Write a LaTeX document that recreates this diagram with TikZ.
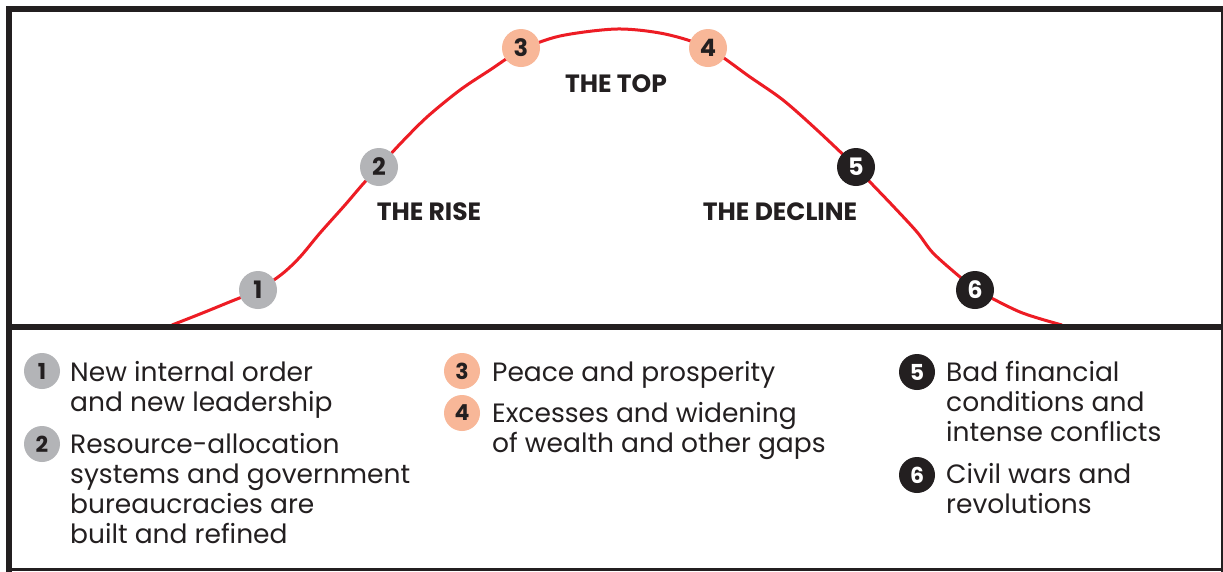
\documentclass[tikz,border=0pt]{standalone}
\usepackage{fontspec}
\setmainfont{Poppins}
\definecolor{ink}{HTML}{231F20}
\definecolor{curvered}{HTML}{ED1C24}
\definecolor{risegray}{HTML}{B3B4B7}
\definecolor{topsalmon}{HTML}{F8B798}
\tikzset{
  numdot/.style={circle, minimum size=38pt, inner sep=0pt, font=\fontsize{24}{24}\selectfont\bfseries},
  legdot/.style={circle, minimum size=36pt, inner sep=0pt, font=\fontsize{22}{22}\selectfont\bfseries},
  grayfill/.style={fill=risegray, text=ink},
  salmonfill/.style={fill=topsalmon, text=ink},
  blackfill/.style={fill=ink, text=white},
  phase/.style={font=\fontsize{25}{25}\selectfont\bfseries, text=ink, inner sep=0pt},
  legtext/.style={anchor=base west, align=left, inner sep=0pt, text=ink, font=\fontsize{26.5}{30}\selectfont},
  frame/.style={draw=ink, line cap=rect}
}
\begin{document}
\begin{tikzpicture}[x=1pt,y=-1pt]
\useasboundingbox (0,0) rectangle (1223,571);
\fill[white] (0,0) rectangle (1223,571);
% curve
\draw[curvered, line width=3pt] plot[smooth, tension=0.5] coordinates {
 (172,325) (200,314) (227,303) (258,290) (282,274) (300,257) (320,233) (345,205) (363,184) (379,167)
 (400,144) (427,117) (460,90) (490,70) (521,50) (560,36) (617,29) (665,34) (708,48) (750,77)
 (783,100) (817,130) (856,167) (870,182) (893,206) (917,232) (933,253) (960,277) (975,289)
 (1020,312) (1062,325)};
% frame
\draw[frame, line width=6pt] (9,571) -- (9,9) -- (1222,9);
\draw[frame, line width=1.5pt] (1222,9) -- (1222,571);
\draw[frame, line width=6pt] (9,326.5) -- (1223,326.5);
\draw[frame, line width=3pt] (9,569.5) -- (1223,569.5);
% curve markers
\node[numdot, grayfill] (c1) at (258,290) {1};
\node[numdot, grayfill] (c2) at (379,167) {2};
\node[numdot, salmonfill] (c3) at (521,48) {3};
\node[numdot, salmonfill] (c4) at (708,48) {4};
\node[numdot, blackfill] (c5) at (856,167) {5};
\node[numdot, blackfill] (c6) at (975,290) {6};
% phase labels
\node[phase] (top) at (616,84) {THE TOP};
\node[phase] (rise) at (429,212) {THE RISE};
\node[phase] (decline) at (780,212) {THE DECLINE};
% legend
\node[legdot, grayfill] (l1) at (42,371) {1};
\node[legdot, grayfill] (l2) at (42,444) {2};
\node[legdot, salmonfill] (l3) at (462,371) {3};
\node[legdot, salmonfill] (l4) at (462,413) {4};
\node[legdot, blackfill] (l5) at (917,372) {5};
\node[legdot, blackfill] (l6) at (917,475) {6};
\node[legtext] (t1) at (70,411) {New internal order\\and new leadership};
\node[legtext] (t2) at (70,543) {Resource-allocation\\systems and government\\bureaucracies are\\built and refined};
\node[legtext] (t3) at (492,381) {Peace and prosperity};
\node[legtext] (t4) at (492,452) {Excesses and widening\\of wealth and other gaps};
\node[legtext] (t5) at (946,441) {Bad financial\\conditions and\\intense conflicts};
\node[legtext] (t6) at (946,513) {Civil wars and\\revolutions};
\end{tikzpicture}
\end{document}
